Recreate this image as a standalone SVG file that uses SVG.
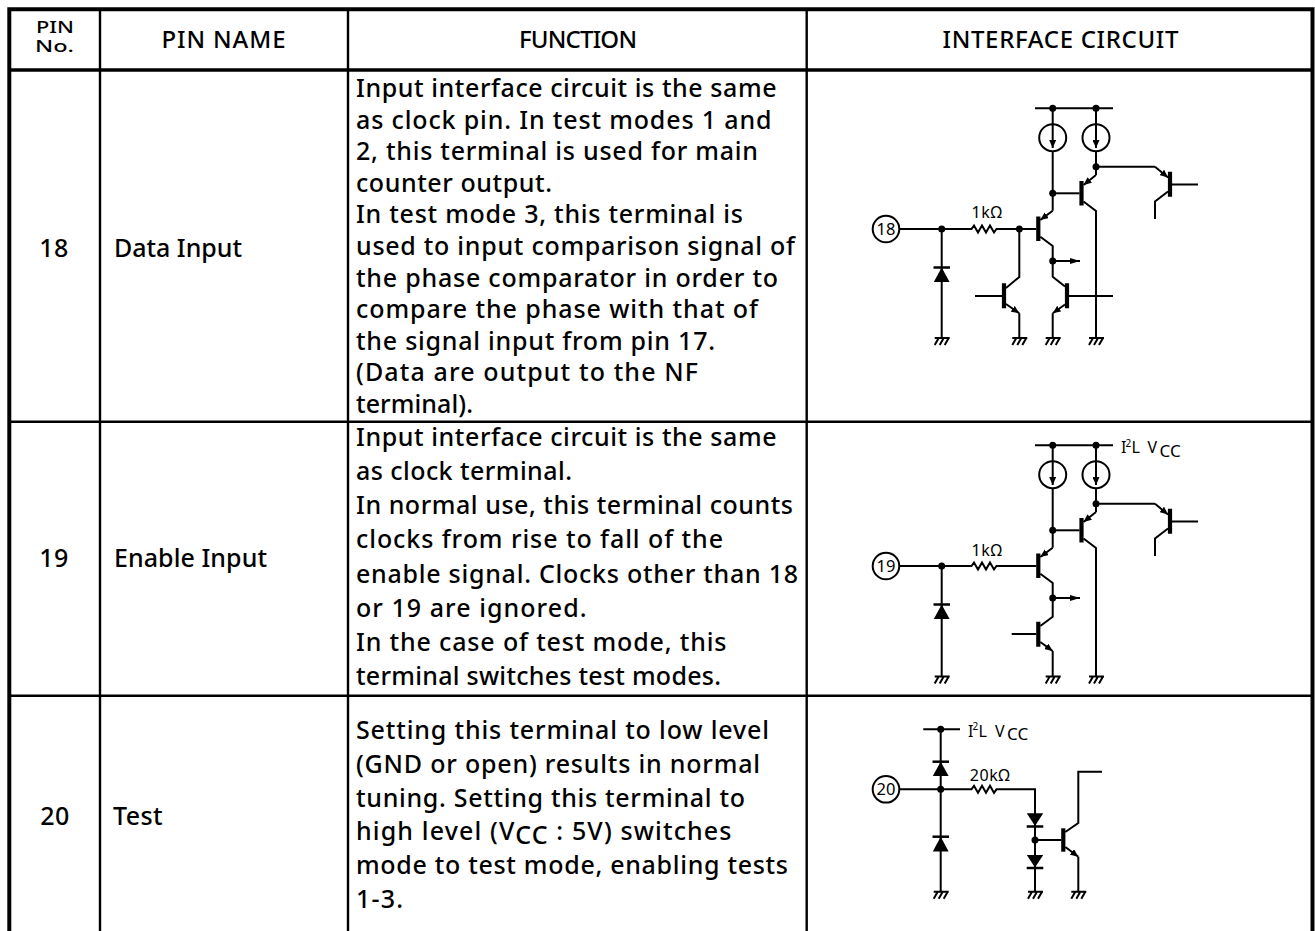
<svg xmlns="http://www.w3.org/2000/svg" xmlns:xlink="http://www.w3.org/1999/xlink" width="1315" height="931" viewBox="0 0 1315 931">
<style>
.t{font-family:"Noto Sans","Open Sans","DejaVu Sans",sans-serif;font-size:25px;font-weight:500;fill:#000}
.h{font-size:24px}
.hs{font-size:17px}
.s{font-family:"Noto Sans","Open Sans","DejaVu Sans",sans-serif;font-size:16px;fill:#000}
.n{font-family:"Noto Sans","Open Sans","DejaVu Sans",sans-serif;font-size:16.5px;fill:#000;text-anchor:middle}
.w{fill:none;stroke:#000;stroke-width:2}
.b{fill:none;stroke:#000;stroke-width:4.2}
.tb{fill:none;stroke:#000;stroke-width:2.4}
.tk{fill:none;stroke:#000;stroke-width:4}
.f{fill:#000;stroke:none}
.d{fill:#000;stroke:none}
</style>
<defs>
<marker id="ar" markerUnits="userSpaceOnUse" markerWidth="8" markerHeight="7" viewBox="0 0 8 7" refX="8" refY="3.5" orient="auto"><path d="M0,0 L8,3.5 L0,7 Z" fill="#000"/></marker>
<marker id="acs" markerUnits="userSpaceOnUse" markerWidth="8" markerHeight="7" viewBox="0 0 8 7" refX="8" refY="3.5" orient="auto"><path d="M0,0 L8,3.5 L0,7 Z" fill="#000"/></marker>
<marker id="ao" markerUnits="userSpaceOnUse" markerWidth="10" markerHeight="6" viewBox="0 0 10 6" refX="10" refY="3" orient="auto"><path d="M0,0 L10,3 L0,6 Z" fill="#000"/></marker>
<g id="gnd"><path class="w" d="M-7,0 H8 M-3,0 L-7,7 M2,0 L-2,7 M7,0 L3,7"/></g>
</defs>
<rect width="1315" height="931" fill="#fff"/>

<g id="table">
<path class="tk" d="M7.3,9.3 H1314.5 M9.3,7.3 V931 M1312.5,7.3 V931"/>
<path class="tk" d="M9,70 H1313" style="stroke-width:3.6"/>
<path class="tb" d="M100,9 V931 M348,9 V931 M806.7,9 V931 M9,421.7 H1312 M9,695.7 H1312"/>
</g>

<g id="header">
<text class="t hs" x="55" y="32.5" text-anchor="middle" textLength="38" lengthAdjust="spacingAndGlyphs">PIN</text>
<text class="t hs" x="54.5" y="52" text-anchor="middle" textLength="39" lengthAdjust="spacingAndGlyphs">No.</text>
<text class="t h" x="223.5" y="47.5" text-anchor="middle" textLength="124" lengthAdjust="spacing">PIN NAME</text>
<text class="t h" x="578" y="47.5" text-anchor="middle" textLength="118" lengthAdjust="spacing">FUNCTION</text>
<text class="t h" x="1060.5" y="47.5" text-anchor="middle" textLength="236" lengthAdjust="spacing">INTERFACE CIRCUIT</text>
</g>

<g id="row18">
<text class="t" x="54" y="256.5" text-anchor="middle" letter-spacing="0.5">18</text>
<text class="t" x="114" y="256.5" textLength="128" lengthAdjust="spacing">Data Input</text>
<text class="t" x="356" y="97" textLength="420.5" lengthAdjust="spacing">Input interface circuit is the same</text>
<text class="t" x="356" y="128.6" textLength="415.5" lengthAdjust="spacing">as clock pin. In test modes 1 and</text>
<text class="t" x="356" y="160.2" textLength="402" lengthAdjust="spacing">2, this terminal is used for main</text>
<text class="t" x="356" y="191.8" textLength="196" lengthAdjust="spacing">counter output.</text>
<text class="t" x="356" y="223.4" textLength="387" lengthAdjust="spacing">In test mode 3, this terminal is</text>
<text class="t" x="356" y="255" textLength="439" lengthAdjust="spacing">used to input comparison signal of</text>
<text class="t" x="356" y="286.6" textLength="422" lengthAdjust="spacing">the phase comparator in order to</text>
<text class="t" x="356" y="318.2" textLength="402" lengthAdjust="spacing">compare the phase with that of</text>
<text class="t" x="356" y="349.8" textLength="359" lengthAdjust="spacing">the signal input from pin 17.</text>
<text class="t" x="356" y="381.4" textLength="342" lengthAdjust="spacing">(Data are output to the NF</text>
<text class="t" x="356" y="413" textLength="117" lengthAdjust="spacing">terminal).</text>
</g>

<g id="row19">
<text class="t" x="54" y="567" text-anchor="middle" letter-spacing="0.5">19</text>
<text class="t" x="114" y="567" textLength="153" lengthAdjust="spacing">Enable Input</text>
<text class="t" x="356" y="446" textLength="420.5" lengthAdjust="spacing">Input interface circuit is the same</text>
<text class="t" x="356" y="480.1" textLength="216" lengthAdjust="spacing">as clock terminal.</text>
<text class="t" x="356" y="514.3" textLength="437" lengthAdjust="spacing">In normal use, this terminal counts</text>
<text class="t" x="356" y="548.4" textLength="367" lengthAdjust="spacing">clocks from rise to fall of the</text>
<text class="t" x="356" y="582.6" textLength="442" lengthAdjust="spacing">enable signal. Clocks other than 18</text>
<text class="t" x="356" y="616.7" textLength="230.5" lengthAdjust="spacing">or 19 are ignored.</text>
<text class="t" x="356" y="650.9" textLength="370.5" lengthAdjust="spacing">In the case of test mode, this</text>
<text class="t" x="356" y="685" textLength="365" lengthAdjust="spacing">terminal switches test modes.</text>
</g>

<g id="row20">
<text class="t" x="55" y="825" text-anchor="middle" letter-spacing="0.5">20</text>
<text class="t" x="113" y="825" letter-spacing="0.4">Test</text>
<text class="t" x="356" y="739" textLength="413" lengthAdjust="spacing">Setting this terminal to low level</text>
<text class="t" x="356" y="772.8" textLength="404" lengthAdjust="spacing">(GND or open) results in normal</text>
<text class="t" x="356" y="806.6" textLength="389" lengthAdjust="spacing">tuning. Setting this terminal to</text>
<text class="t" x="356" y="840.4" textLength="375.5" lengthAdjust="spacing">high level (V<tspan dy="3.5">CC</tspan><tspan dy="-3.5"> : 5V) switches</tspan></text>
<text class="t" x="356" y="874.2" textLength="432" lengthAdjust="spacing">mode to test mode, enabling tests</text>
<text class="t" x="356" y="908" textLength="47" lengthAdjust="spacing">1-3.</text>
</g>

<g id="circuit18">
<g id="c18-wires">
<path class="w" d="M1035,108.3 H1113 M1052.7,108.3 V124.2 M1096,108.3 V124.2"/>
<path class="w" d="M899.3,229 H971.5 l2.5,-3.5 l4,7 l4,-7 l4,7 l4,-7 l4,7 l2.5,-3.5 H1036.3"/>
<path class="w" d="M941.7,229 V338"/>
<path class="w" d="M1052.7,210.7 V151.2"/>
<path class="w" d="M1040.3,236.7 L1052.7,246 V276.7 L1065,286.5"/>
<path class="w" d="M1052.7,313.3 V338"/>
<path class="w" d="M1069,296 H1113"/>
<path class="w" d="M1052.7,193.3 H1079.5"/>
<path class="w" d="M1096,175 V151.2"/>
<path class="w" d="M1083.5,201.5 L1096,211 V338"/>
<path class="w" d="M1096,166.7 H1155"/>
<path class="w" d="M1172,184.5 H1198 M1168,191.5 L1155,201.5 V219"/>
<path class="w" d="M975,296 H1002 M1006,288 L1019.3,277 V229 M1019.3,313.3 V338"/>
<path class="w" d="M1052.7,261 H1080" marker-end="url(#ao)"/>
</g>
<g id="c18-emitters">
<path class="w" d="M1052.7,210.7 L1040.3,220" marker-end="url(#ar)"/>
<path class="w" d="M1096,175 L1083.5,185" marker-end="url(#ar)"/>
<path class="w" d="M1155,166.7 L1168,177.5" marker-end="url(#ar)"/>
<path class="w" d="M1065,304.5 L1052.7,313.3" marker-end="url(#ar)"/>
<path class="w" d="M1006,304 L1019.3,313.3" marker-end="url(#ar)"/>
</g>
<g id="c18-bars">
<path class="b" d="M1038.3,216.5 V241 M1081.5,181 V205.5 M1170,171.7 V196.7 M1067,283.3 V308.3 M1004,283.3 V308.3"/>
</g>
<g id="c18-sources">
<circle class="w" cx="1052.7" cy="137.7" r="13.5"/>
<circle class="w" cx="1096" cy="137.7" r="13.5"/>
<path class="w" d="M1052.7,124.2 V148" marker-end="url(#acs)"/>
<path class="w" d="M1096,124.2 V148" marker-end="url(#acs)"/>
</g>
<g id="c18-diode">
<path class="w" d="M933.5,267.5 H950" style="stroke-width:2.5"/>
<path class="f" d="M941.7,267.5 L933.8,282 H949.6 Z"/>
</g>
<g id="c18-dots">
<circle class="d" cx="1052.7" cy="108.3" r="3.5"/>
<circle class="d" cx="1096" cy="108.3" r="3.5"/>
<circle class="d" cx="1096" cy="166.7" r="3.5"/>
<circle class="d" cx="1052.7" cy="193.3" r="3.5"/>
<circle class="d" cx="941.7" cy="229" r="3.5"/>
<circle class="d" cx="1019.3" cy="229" r="3.5"/>
<circle class="d" cx="1052.7" cy="261" r="3.5"/>
</g>
<g id="c18-pin">
<circle class="w" cx="886" cy="229" r="13.3"/>
<text class="n" x="886" y="234.8">18</text>
</g>
<text class="s" x="987" y="218.3" text-anchor="middle" letter-spacing="0.6">1kΩ</text>
<g id="c18-gnd">
<use xlink:href="#gnd" x="941.7" y="338"/>
<use xlink:href="#gnd" x="1019.3" y="338"/>
<use xlink:href="#gnd" x="1052.7" y="338"/>
<use xlink:href="#gnd" x="1096" y="338"/>
</g>
</g>

<g id="circuit19">
<g id="c19-wires">
<path class="w" d="M1035,445.3 H1113 M1052.7,445.3 V461.2 M1096,445.3 V461.2"/>
<path class="w" d="M899.3,566 H971.5 l2.5,-3.5 l4,7 l4,-7 l4,7 l4,-7 l4,7 l2.5,-3.5 H1036.3"/>
<path class="w" d="M941.7,566 V676.5"/>
<path class="w" d="M1052.7,547.7 V488.2"/>
<path class="w" d="M1040.3,573.7 L1052.7,583 V616.7 L1040.3,626"/>
<path class="w" d="M1011.7,634 H1036.3"/>
<path class="w" d="M1052.7,651 V676.5"/>
<path class="w" d="M1052.7,530.3 H1079.5"/>
<path class="w" d="M1096,512 V488.2"/>
<path class="w" d="M1083.5,538.5 L1096,548 V676.5"/>
<path class="w" d="M1096,503.7 H1155"/>
<path class="w" d="M1172,521.5 H1198 M1168,528.5 L1155,538.5 V556"/>
<path class="w" d="M1052.7,598 H1080" marker-end="url(#ao)"/>
</g>
<g id="c19-emitters">
<path class="w" d="M1052.7,547.7 L1040.3,557" marker-end="url(#ar)"/>
<path class="w" d="M1096,512 L1083.5,522" marker-end="url(#ar)"/>
<path class="w" d="M1155,503.7 L1168,514.5" marker-end="url(#ar)"/>
<path class="w" d="M1040.3,642 L1052.7,651" marker-end="url(#ar)"/>
</g>
<g id="c19-bars">
<path class="b" d="M1038.3,553.5 V578 M1081.5,518 V542.5 M1170,508.7 V533.7 M1038.3,621.7 V646.7"/>
</g>
<g id="c19-sources">
<circle class="w" cx="1052.7" cy="474.7" r="13.5"/>
<circle class="w" cx="1096" cy="474.7" r="13.5"/>
<path class="w" d="M1052.7,461.2 V485" marker-end="url(#acs)"/>
<path class="w" d="M1096,461.2 V485" marker-end="url(#acs)"/>
</g>
<g id="c19-diode">
<path class="w" d="M933.5,604.5 H950" style="stroke-width:2.5"/>
<path class="f" d="M941.7,604.5 L933.8,619 H949.6 Z"/>
</g>
<g id="c19-dots">
<circle class="d" cx="1052.7" cy="445.3" r="3.5"/>
<circle class="d" cx="1096" cy="445.3" r="3.5"/>
<circle class="d" cx="1096" cy="503.7" r="3.5"/>
<circle class="d" cx="1052.7" cy="530.3" r="3.5"/>
<circle class="d" cx="941.7" cy="566" r="3.5"/>
<circle class="d" cx="1052.7" cy="598" r="3.5"/>
</g>
<g id="c19-pin">
<circle class="w" cx="886" cy="566" r="13.3"/>
<text class="n" x="886" y="571.8">19</text>
</g>
<text class="s" x="987" y="556" text-anchor="middle" letter-spacing="0.6">1kΩ</text>
<text class="s" y="453.3"><tspan x="1121">I</tspan><tspan x="1125.5" y="446.5" style="font-size:10px">2</tspan><tspan x="1131.5" y="453.3">L</tspan><tspan x="1147.5" y="453.3">V</tspan><tspan x="1159.5" y="457" style="font-size:17px">CC</tspan></text>
<g id="c19-gnd">
<use xlink:href="#gnd" x="941.7" y="676.5"/>
<use xlink:href="#gnd" x="1052.7" y="676.5"/>
<use xlink:href="#gnd" x="1096" y="676.5"/>
</g>
</g>

<g id="circuit20">
<g id="c20-wires">
<path class="w" d="M923.3,729.3 H960 M940.7,729.3 V891.7"/>
<path class="w" d="M899.3,789.3 H971.5 l2.5,-3.5 l4,7 l4,-7 l4,7 l4,-7 l4,7 l2.5,-3.5 H1035 V891.7"/>
<path class="w" d="M1035,840 H1061.3"/>
<path class="w" d="M1065.3,832 L1078.3,823 V771.7 H1102"/>
<path class="w" d="M1078.3,856.7 V891.7"/>
</g>
<g id="c20-emitter">
<path class="w" d="M1065.3,847 L1078.3,856.7" marker-end="url(#ar)"/>
</g>
<path class="b" d="M1063.3,828.3 V851.7"/>
<g id="c20-diodes">
<path class="w" d="M932.5,761.7 H949" style="stroke-width:2.5"/>
<path class="f" d="M940.7,761.7 L932.8,776 H948.6 Z"/>
<path class="w" d="M932.5,836.7 H949" style="stroke-width:2.5"/>
<path class="f" d="M940.7,836.7 L932.8,851.5 H948.6 Z"/>
<path class="f" d="M1026.8,813.3 H1043.2 L1035,826 Z"/>
<path class="w" d="M1026.7,826.5 H1043.3" style="stroke-width:2.5"/>
<path class="f" d="M1026.8,855 H1043.2 L1035,867.5 Z"/>
<path class="w" d="M1026.7,868 H1043.3" style="stroke-width:2.5"/>
</g>
<g id="c20-dots">
<circle class="d" cx="940.7" cy="729.3" r="3.5"/>
<circle class="d" cx="940.7" cy="789.3" r="3.5"/>
<circle class="d" cx="1035" cy="840" r="3.5"/>
</g>
<g id="c20-pin">
<circle class="w" cx="886" cy="789.3" r="13.3"/>
<text class="n" x="886" y="795.1">20</text>
</g>
<text class="s" x="990" y="781" text-anchor="middle" letter-spacing="0.6">20kΩ</text>
<text class="s" y="736.7"><tspan x="968">I</tspan><tspan x="972.5" y="729.9" style="font-size:10px">2</tspan><tspan x="978.5" y="736.7">L</tspan><tspan x="995" y="736.7">V</tspan><tspan x="1007" y="740.4" style="font-size:17px">CC</tspan></text>
<g id="c20-gnd">
<use xlink:href="#gnd" x="940.7" y="891.7"/>
<use xlink:href="#gnd" x="1035" y="891.7"/>
<use xlink:href="#gnd" x="1078.3" y="891.7"/>
</g>
</g>
</svg>
